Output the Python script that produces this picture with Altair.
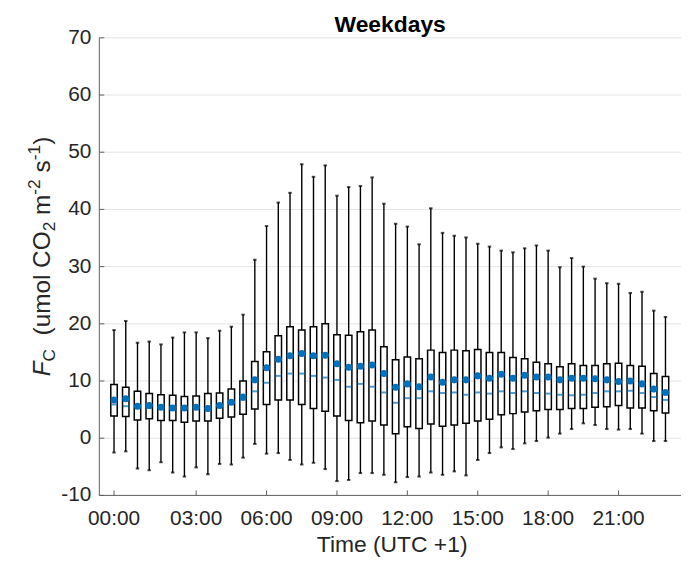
import altair as alt
import pandas as pd

# ---- data (half-hourly boxes, 00:00 .. 23:30) ----
slot = list(range(48))
whisk_hi = [18.9, 20.5, 16.7, 16.9, 16.4, 17.6, 18.5, 18.5, 17.5, 18.8, 19.5, 21.6,
            31.2, 37.1, 41.2, 42.9, 47.9, 45.7, 47.7, 42.4, 43.9, 44.1, 45.6, 41.0,
            37.5, 37.0, 33.9, 40.2, 35.9, 35.4, 35.1, 34.0, 33.5, 32.8, 32.5, 33.2,
            33.7, 32.8, 29.9, 31.5, 30.0, 27.9, 27.1, 27.0, 25.4, 25.6, 22.3, 21.2]
q3 = [9.4, 8.9, 8.2, 7.8, 7.6, 7.5, 7.3, 7.4, 7.8, 7.9, 8.6, 10.0,
      13.4, 15.1, 17.9, 19.5, 18.9, 19.5, 20.0, 18.1, 18.0, 18.6, 18.9, 16.0,
      13.7, 14.2, 13.9, 15.4, 15.0, 15.4, 15.3, 15.5, 15.0, 15.0, 14.1, 13.9,
      13.3, 13.0, 12.5, 13.0, 12.7, 12.7, 13.0, 13.1, 12.7, 12.6, 11.3, 10.8]
q1 = [3.9, 3.8, 3.2, 3.4, 3.1, 3.1, 2.8, 3.0, 3.0, 3.5, 3.7, 4.2,
      5.1, 5.9, 6.7, 6.7, 5.9, 5.2, 4.7, 3.9, 3.1, 2.7, 3.0, 2.3,
      0.8, 2.0, 1.7, 2.5, 2.1, 2.3, 2.6, 3.0, 3.3, 4.1, 4.3, 4.6,
      4.8, 5.0, 5.0, 5.2, 5.2, 5.4, 5.5, 5.7, 5.3, 5.3, 4.8, 4.4]
median = [5.9, 5.6, 5.4, 5.3, 5.1, 5.0, 5.0, 5.1, 4.9, 5.4, 6.0, 6.7,
          8.2, 9.7, 10.9, 11.3, 11.3, 10.9, 10.6, 10.2, 9.0, 9.5, 9.0, 8.0,
          6.2, 7.0, 7.0, 8.2, 7.9, 8.0, 7.6, 8.0, 7.8, 8.2, 7.9, 8.2,
          7.9, 7.8, 7.6, 7.5, 7.6, 7.9, 8.2, 8.2, 8.3, 7.9, 7.2, 6.7]
mean = [6.7, 6.9, 5.6, 5.7, 5.4, 5.3, 5.3, 5.4, 5.2, 5.7, 6.3, 7.2,
        10.2, 12.3, 13.8, 14.4, 14.8, 14.4, 14.5, 13.0, 12.4, 12.6, 12.8, 11.3,
        8.9, 9.5, 9.0, 10.7, 9.8, 10.2, 10.2, 10.9, 10.5, 11.2, 10.5, 11.0,
        10.7, 10.7, 10.2, 10.5, 10.5, 10.4, 10.2, 9.9, 10.0, 9.5, 8.6, 8.0]
whisk_lo = [-2.5, -2.3, -5.3, -5.6, -4.2, -6.0, -6.7, -5.1, -6.3, -4.5, -4.6, -3.4,
            -1.0, -2.7, -2.6, -3.8, -4.6, -4.3, -5.4, -7.5, -7.3, -6.1, -6.1, -6.4,
            -7.7, -6.8, -6.7, -6.0, -6.4, -5.8, -6.5, -3.8, -2.6, -1.6, -1.9, -0.9,
            -0.5, 0.1, 0.8, 1.6, 2.6, 2.3, 1.6, 1.5, 1.6, 0.8, -0.5, -0.5]

tick_pos = [0, 7, 13, 19, 25, 31, 37, 43]
tick_lab = ["00:00", "03:00", "06:00", "09:00", "12:00", "15:00", "18:00", "21:00"]
y_ticks = [-10, 0, 10, 20, 30, 40, 50, 60, 70]
y_lab = ["-10", "0", "10", "20", "30", "40", "50", "60", "70"]

df = pd.DataFrame({"k": slot, "lo": whisk_lo, "q1": q1, "med": median,
                   "q3": q3, "hi": whisk_hi, "mean": mean})

W, H = 586, 461
FONT = "Liberation Sans"
TXT = "#262626"
BLUE = "#0072BD"
AXC = "#606060"

xs = alt.Scale(domain=[-0.83, 47.9], nice=False, zero=False)
ys = alt.Scale(domain=[-10, 70], nice=False, zero=False)

ydf = pd.DataFrame({"v": y_ticks, "lab": y_lab})
tdf = pd.DataFrame({"v": tick_pos, "lab": tick_lab})
one = alt.Data(values=[{"a": 1}])

# grid, axis lines, ticks and tick labels (drawn from the tick lists)
grid = alt.Chart(ydf).mark_rule(color="#e4e4e4", strokeWidth=1).encode(
    y=alt.Y("v:Q", scale=ys, axis=None), x=alt.value(0), x2=alt.value(W))
yline = alt.Chart(one).mark_rule(color=AXC, strokeWidth=1).encode(
    x=alt.value(0), y=alt.value(0), y2=alt.value(H))
xline = alt.Chart(one).mark_rule(color=AXC, strokeWidth=1).encode(
    x=alt.value(0), x2=alt.value(W), y=alt.value(H))
ytk = alt.Chart(ydf).mark_rule(color=AXC, strokeWidth=1).encode(
    y=alt.Y("v:Q", scale=ys, axis=None), x=alt.value(0), x2=alt.value(5))
xtk = alt.Chart(tdf).mark_rule(color=AXC, strokeWidth=1).encode(
    x=alt.X("v:Q", scale=xs, axis=None), y=alt.value(H), y2=alt.value(H - 5))
ylab = alt.Chart(ydf).mark_text(font=FONT, fontSize=21, color=TXT, align="right",
                                baseline="middle").encode(
    y=alt.Y("v:Q", scale=ys, axis=None), x=alt.value(-8), text="lab:N")
xlab = alt.Chart(tdf).mark_text(font=FONT, fontSize=21, color=TXT, align="center",
                                baseline="top").encode(
    x=alt.X("v:Q", scale=xs, axis=None), y=alt.value(H + 13), text="lab:N")
xtitle = alt.Chart(one).mark_text(text="Time (UTC +1)", font=FONT, fontSize=23, color=TXT,
                                  align="center", baseline="alphabetic").encode(
    x=alt.value(W / 2 + 2), y=alt.value(H + 57))

base = alt.Chart(df)
whisk = base.mark_rule(color="black", strokeWidth=1.4).encode(
    x=alt.X("k:Q", scale=xs, axis=None),
    y=alt.Y("lo:Q", scale=ys, axis=None),
    y2="hi:Q")
cap_lo = base.mark_tick(orient="horizontal", color="black", size=3.5, thickness=2).encode(
    x=alt.X("k:Q", scale=xs, axis=None), y=alt.Y("lo:Q", scale=ys, axis=None))
cap_hi = base.mark_tick(orient="horizontal", color="black", size=3.5, thickness=2).encode(
    x=alt.X("k:Q", scale=xs, axis=None), y=alt.Y("hi:Q", scale=ys, axis=None))
box = base.mark_bar(size=6.5, fill="white", stroke="black", strokeWidth=1.5).encode(
    x=alt.X("k:Q", scale=xs, axis=None), y=alt.Y("q1:Q", scale=ys, axis=None), y2="q3:Q")
med = base.mark_tick(orient="horizontal", color=BLUE, size=5.5, thickness=2).encode(
    x=alt.X("k:Q", scale=xs, axis=None), y=alt.Y("med:Q", scale=ys, axis=None))
mn = base.mark_circle(color=BLUE, size=50, opacity=1).encode(
    x=alt.X("k:Q", scale=xs, axis=None), y=alt.Y("mean:Q", scale=ys, axis=None))

title = alt.Chart(one).mark_text(text="Weekdays", font=FONT, fontSize=23, fontWeight="bold",
                                 color="black", align="center", baseline="alphabetic").encode(
    x=alt.value(W / 2), y=alt.value(-6))

# y-axis title with sub/superscripts, built from rotated text pieces
AW = {' ': 278, '(': 333, ')': 333, 'u': 556, 'm': 833, 'o': 556, 'l': 222, 'C': 722,
      'O': 778, '2': 556, '1': 556, '-': 333, 's': 500, 'F': 611}
M, S = 24.5, 17.5
pieces = [("F", M, 0, "italic"), ("C", S, 5, "normal"), ("  (umol CO", M, 0, "normal"),
          ("2", S, 5, "normal"), (" m", M, 0, "normal"), ("-2", S, -10, "normal"),
          (" s", M, 0, "normal"), ("-1", S, -10, "normal"), (")", M, 0, "normal")]
ylayers = []
ypos = 341.0
xbase = -49.5
for t, s, sh, st in pieces:
    lead = len(t) - len(t.lstrip(" "))
    ypos -= lead * AW[' '] * s / 1000
    body = t.lstrip(" ")
    ylayers.append(alt.Chart(one).mark_text(text=body, font=FONT, fontSize=s, fontStyle=st,
                                            color=TXT, angle=270, align="left",
                                            baseline="alphabetic").encode(
        x=alt.value(xbase + sh), y=alt.value(ypos)))
    ypos -= sum(AW[c] for c in body) * s / 1000

chart = alt.layer(grid, whisk, cap_lo, cap_hi, box, med, mn, yline, xline, ytk, xtk,
                  ylab, xlab, xtitle, title, *ylayers).properties(
    width=W, height=H,
    background="white",
    padding={"left": 92, "top": 28, "right": 0, "bottom": 60},
    autosize=alt.AutoSizeParams(type="none"),
).configure_view(stroke=None)

chart.save("out.html", embed_options={"renderer": "svg", "actions": False})
